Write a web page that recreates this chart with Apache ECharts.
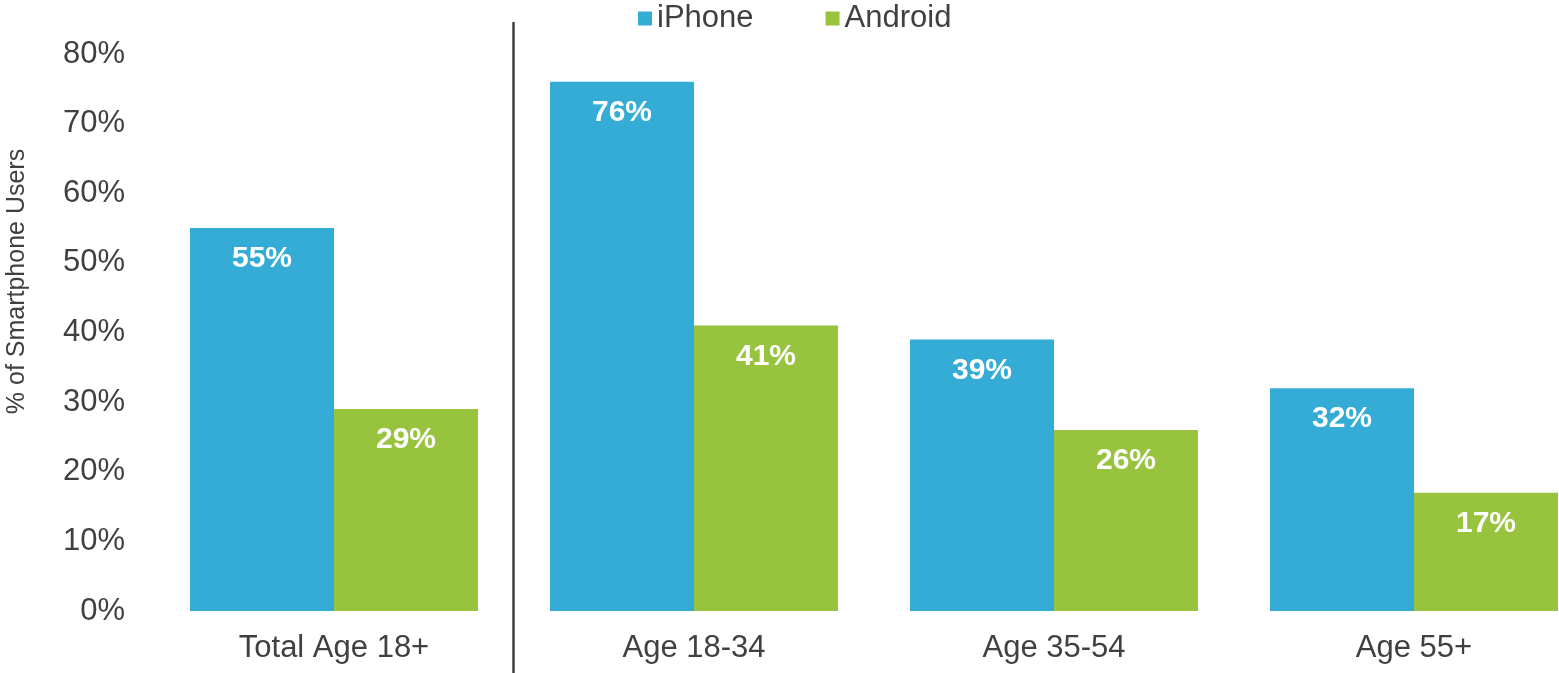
<!DOCTYPE html>
<html>
<head>
<meta charset="utf-8">
<script src="https://cdn.jsdelivr.net/npm/echarts@6/dist/echarts.min.js"></script>
<style>
html,body{margin:0;padding:0;background:#fff;}
#chart{width:1559px;height:673px;}
</style>
</head>
<body>
<div id="chart"></div>
<script>
const categories = ['Total Age 18+', 'Age 18-34', 'Age 35-54', 'Age 55+'];
const iphone = [55, 76, 39, 32];
const android = [29, 41, 26, 17];
const yTicks = [0, 10, 20, 30, 40, 50, 60, 70, 80];

const FONT = '"Liberation Sans", Arial, sans-serif';
const TEXT = '#404040';

const chart = echarts.init(document.getElementById('chart'));
const labelCfg = {
  show: true,
  position: 'insideTop',
  distance: 16,
  color: '#ffffff',
  fontFamily: FONT,
  fontWeight: 'bold',
  fontSize: 30,
  formatter: p => p.value + '%'
};
chart.setOption({
  animation: false,
  backgroundColor: '#ffffff',
  textStyle: { fontFamily: FONT },
  legend: {
    data: ['iPhone', 'Android'],
    left: 633,
    top: -2,
    itemWidth: 14,
    itemHeight: 14,
    itemGap: 72,
    icon: 'rect',
    textStyle: { color: TEXT, fontSize: 31, fontFamily: FONT }
  },
  grid: { left: 154, width: 1440, top: 54, bottom: 62, containLabel: false, outerBoundsMode: 'none' },
  xAxis: {
    type: 'category',
    data: categories,
    axisLine: { show: false },
    axisTick: { show: false },
    axisLabel: { color: TEXT, fontSize: 31, fontFamily: FONT, margin: 22 }
  },
  yAxis: {
    type: 'value',
    min: yTicks[0],
    max: yTicks[yTicks.length - 1],
    interval: 10,
    name: '% of Smartphone Users',
    nameLocation: 'middle',
    nameRotate: 90,
    nameGap: 124,
    nameTextStyle: { color: TEXT, fontSize: 25, fontFamily: FONT, padding: [0, 0, 0, 102] },
    axisLine: { show: false },
    axisTick: { show: false },
    splitLine: { show: false },
    axisLabel: { color: TEXT, fontSize: 31, fontFamily: FONT, margin: 29, formatter: v => v + '%' }
  },
  series: [
    {
      name: 'iPhone', type: 'bar', data: iphone,
      itemStyle: { color: '#34ACD6' },
      barGap: '0%', barCategoryGap: '20%',
      label: labelCfg
    },
    {
      name: 'Android', type: 'bar', data: android,
      itemStyle: { color: '#97C33F' },
      barGap: '0%', barCategoryGap: '20%',
      label: labelCfg
    }
  ]
});

const x0 = chart.convertToPixel({ xAxisIndex: 0 }, categories[0]);
const x1 = chart.convertToPixel({ xAxisIndex: 0 }, categories[1]);
const xd = Math.round((x0 + x1) / 2) - 0.5;
chart.setOption({
  graphic: [{
    type: 'line',
    shape: { x1: xd, y1: 22, x2: xd, y2: 673 },
    style: { stroke: '#404040', lineWidth: 2.5 },
    silent: true
  }]
});
</script>
</body>
</html>
